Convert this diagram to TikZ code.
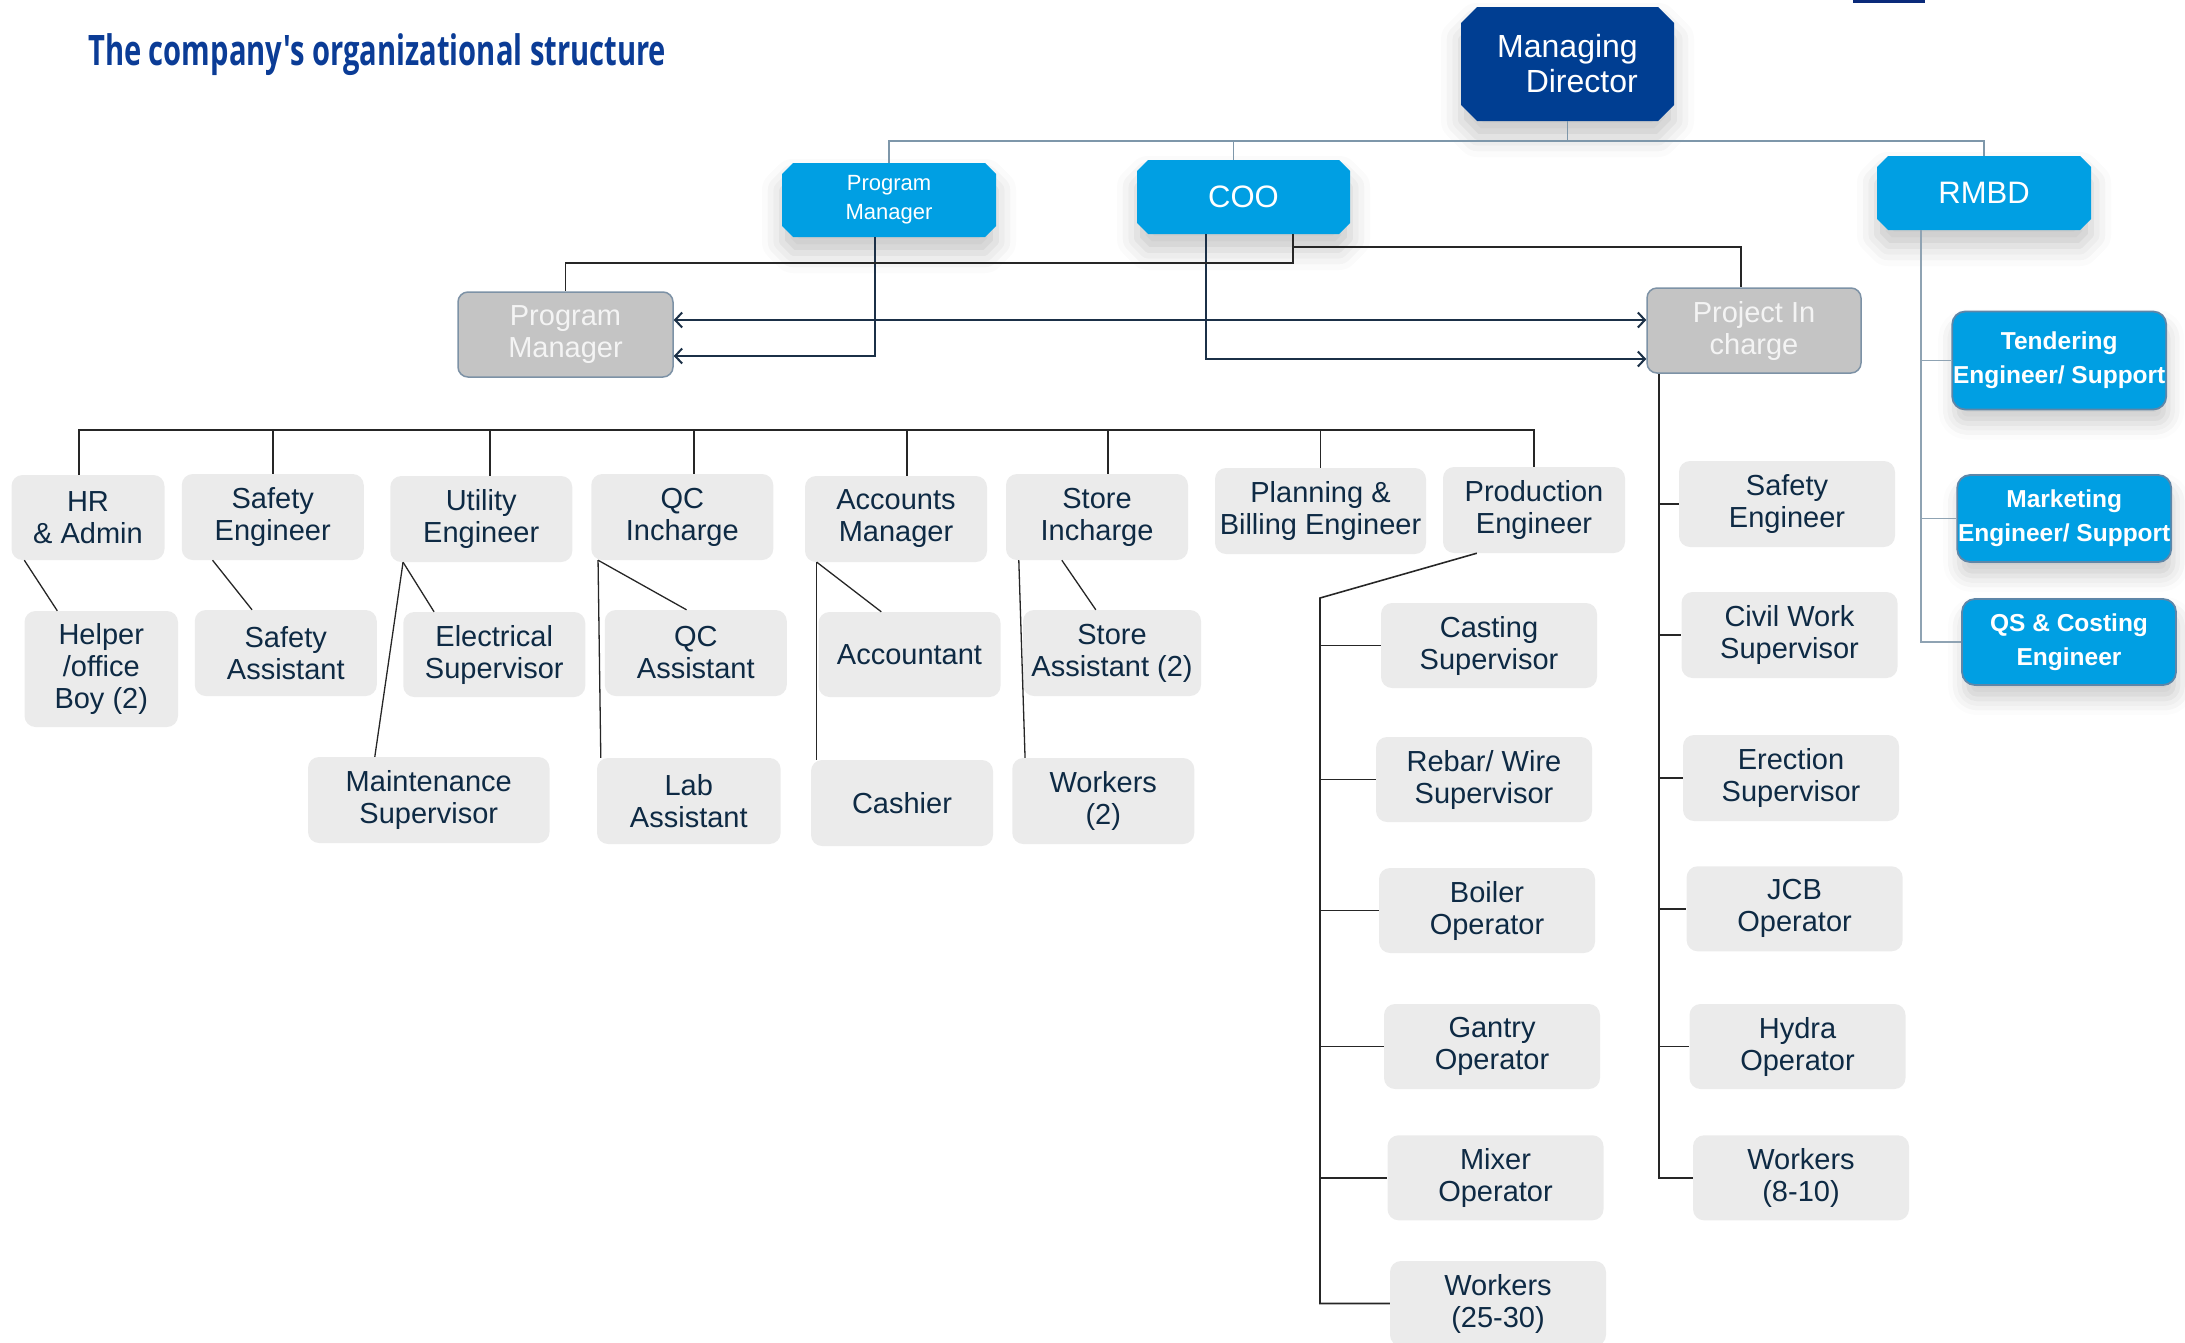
\documentclass[tikz,border=0pt]{standalone}
\usepackage{fontspec}
\setmainfont{Liberation Sans}
\newfontfamily\titlefont{Open Sans}
\usepackage{graphicx}
\usetikzlibrary{arrows.meta,shadows.blur}
\definecolor{blueF}{HTML}{009FE3}
\definecolor{mdF}{HTML}{003E92}
\definecolor{gboxF}{HTML}{EBEBEB}
\definecolor{gtxt}{HTML}{0E2A44}
\definecolor{pgF}{HTML}{C4C4C4}
\definecolor{pgB}{HTML}{7D92A6}
\definecolor{pgT}{HTML}{F4F4F4}
\definecolor{rbB}{HTML}{5E86A8}
\definecolor{mdL}{HTML}{7E97AA}
\definecolor{rL}{HTML}{8FA3B3}
\definecolor{blk}{HTML}{262626}
\definecolor{navyL}{HTML}{1B3047}
\definecolor{titleC}{HTML}{0B3C96}
\definecolor{topbar}{HTML}{0A2A7A}
% chamfered box: cx, cy, half width, half height, chamfer, colour
\newcommand{\chamf}[6]{%
  \begin{scope}[shift={(#1,#2)}]
  \fill[#6, blur shadow={shadow xshift=0pt, shadow yshift=-16pt, shadow blur radius=20pt, shadow opacity=22}]
    (-#3+#5,-#4) -- (#3-#5,-#4) -- (#3,-#4+#5) -- (#3,#4-#5) -- (#3-#5,#4)
    -- (-#3+#5,#4) -- (-#3,#4-#5) -- (-#3,-#4+#5) -- cycle;
  \end{scope}}
\begin{document}
\begin{tikzpicture}[x=1pt,y=-1pt,
  gbox/.style={rounded corners=11pt, fill=gboxF, text=gtxt, font=\fontsize{29}{32}\selectfont, align=center, inner sep=0pt, minimum width=182pt, minimum height=86pt},
  wide/.style={minimum width=216pt, minimum height=85pt},
  pbox/.style={rounded corners=10pt, fill=pgF, draw=pgB, line width=1.5pt, text=pgT, font=\fontsize{29}{32}\selectfont, align=center, inner sep=0pt, minimum width=214pt, minimum height=85pt},
  topnode/.style={text=white, align=center, inner sep=0pt, minimum width=214pt, minimum height=74pt},
  rbox/.style={rounded corners=13pt, fill=blueF, draw=rbB, line width=1.8pt, text=white, font=\fontsize{24.5}{34}\selectfont\bfseries, align=center, inner sep=0pt, minimum width=214pt, minimum height=86pt, blur shadow={shadow xshift=2pt, shadow yshift=-14pt, shadow blur radius=16pt, shadow opacity=20}},
  mdline/.style={draw=mdL, line width=1.6pt},
  bline/.style={draw=blk, line width=1.6pt},
  dline/.style={draw=blk, line width=1.3pt},
  aline/.style={draw=navyL, line width=2pt, >={Straight Barb[length=7pt,width=15pt]}},
  rline/.style={draw=rL, line width=1.6pt}]
\useasboundingbox (0,0) rectangle (2185,1342);
\fill[topbar] (1853,0) rectangle (1925,3);

% title
\node[anchor=base west, text=titleC, inner sep=0pt] (title) at (88,65)
  {\resizebox{578pt}{\height}{\titlefont\bfseries\fontsize{42}{50}\selectfont The company's organizational structure}};

% top level (chamfered boxes)
\chamf{1567.5}{64}{106.5}{57}{16}{mdF}
\chamf{889}{200}{107}{37}{11}{blueF}
\chamf{1243.5}{197}{106.5}{37}{11}{blueF}
\chamf{1984}{193}{107}{37}{11}{blueF}
\node[topnode, minimum width=213pt, minimum height=114pt, font=\fontsize{32}{35}\selectfont, align=right] (md) at (1567.5,64) {Managing\\Director};
\node[topnode, font=\fontsize{22}{29}\selectfont] (pmb) at (889,200) {Program\\Manager};
\node[topnode, minimum width=213pt, font=\fontsize{31}{35}\selectfont] (coo) at (1243.5,197) {COO};
\node[topnode, font=\fontsize{31}{35}\selectfont] (rmbd) at (1984,193) {RMBD};

\node[pbox, minimum width=215pt] (pmg) at (565.5,334.5) {Program\\Manager};
\node[pbox] (pic) at (1754,330.5) {Project In\\charge};

% RMBD column
\node[rbox, minimum height=98pt] (ten) at (2059.2,360.5) {Tendering\\Engineer/ Support};
\node[rbox, minimum height=87pt] (mkt) at (2064.2,518.5) {Marketing\\Engineer/ Support};
\node[rbox] (qs) at (2069,642) {QS \& Costing\\Engineer};

% level 1
\node[gbox, minimum width=153pt, minimum height=85pt] (hr) at (88,517.5) {HR\\\& Admin};
\node[gbox] (se1) at (272.75,517) {Safety\\Engineer};
\node[gbox] (ue) at (481.25,519) {Utility\\Engineer};
\node[gbox] (qci) at (682.25,517) {QC\\Incharge};
\node[gbox] (am) at (896,519) {Accounts\\Manager};
\node[gbox] (si) at (1097,517) {Store\\Incharge};
\node[gbox, minimum width=211pt] (pbe) at (1320.5,511) {Planning \&\\Billing Engineer};
\node[gbox] (pe) at (1534,510) {Production\\Engineer};

% level 2
\node[gbox, minimum width=153.5pt, minimum height=116pt] (help) at (101.25,669) {Helper\\/office\\Boy (2)};
\node[gbox] (sa) at (285.75,653) {Safety\\Assistant};
\node[gbox, minimum height=85pt] (es) at (494.25,654.5) {Electrical\\Supervisor};
\node[gbox] (qca) at (695.75,653) {QC\\Assistant};
\node[gbox, minimum height=85pt] (acc) at (909.5,654.5) {Accountant};
\node[gbox, minimum width=178pt] (sta) at (1112,653) {Store\\Assistant (2)};

% level 3
\node[gbox, minimum width=241.5pt] (ms) at (428.75,800) {Maintenance\\Supervisor};
\node[gbox, minimum width=183.6pt] (la) at (688.8,801) {Lab\\Assistant};
\node[gbox] (cash) at (902,803) {Cashier};
\node[gbox] (w2) at (1103.25,801) {Workers\\(2)};

% production column
\node[gbox, wide] (cs) at (1489,645.5) {Casting\\Supervisor};
\node[gbox, wide] (rw) at (1484,779.5) {Rebar/ Wire\\Supervisor};
\node[gbox, wide] (bo) at (1487,910.5) {Boiler\\Operator};
\node[gbox, wide] (go) at (1492,1046.5) {Gantry\\Operator};
\node[gbox, wide] (mo) at (1495.5,1177.75) {Mixer\\Operator};
\node[gbox, wide] (w25) at (1498,1303.5) {Workers\\(25-30)};

% project column
\node[gbox, wide, minimum height=86pt] (pse) at (1787,504) {Safety\\Engineer};
\node[gbox, wide, minimum height=86pt] (cws) at (1789.5,635) {Civil Work\\Supervisor};
\node[gbox, wide, minimum height=86pt] (ers) at (1791,778) {Erection\\Supervisor};
\node[gbox, wide] (jcb) at (1794.6,908.8) {JCB\\Operator};
\node[gbox, wide] (hyd) at (1797.5,1046.5) {Hydra\\Operator};
\node[gbox, wide] (w8) at (1801,1177.8) {Workers\\(8-10)};

% ---- connectors ----
% managing director bus
\draw[mdline] (md.south) -- ++(0,20);
\draw[mdline] (pmb.north) -- ++(0,-22) -| (rmbd.north);
\draw[mdline] ([xshift=-10pt]coo.north) -- ++(0,-19);

% program manager / coo arrows
\draw[aline,->] ([xshift=-14pt]pmb.south) |- ([yshift=-21.5pt]pmg.east);
\draw[aline,<->] ([yshift=14.5pt]pmg.east) -- ([yshift=10.5pt]pic.west);
\draw[aline,->] ([xshift=-37.5pt]coo.south) |- ([yshift=-28.5pt]pic.west);
\draw[bline] ([xshift=49.5pt]coo.south) -- ++(0,29) -| (pmg.north);
\draw[bline] ([xshift=49.5pt,yshift=-13pt]coo.south) -| ([xshift=-13pt]pic.north);

% lower bus
\coordinate (busY) at (0,430);
\draw[bline] ([xshift=-9pt]hr.north) -- ([xshift=-9pt]hr.north |- busY) -| (pe.north);
\draw[bline] (se1.north) -- (se1.north |- busY);
\draw[bline] ([xshift=9pt]ue.north) -- ([xshift=9pt]ue.north |- busY);
\draw[bline] ([xshift=12pt]qci.north) -- ([xshift=12pt]qci.north |- busY);
\draw[bline] ([xshift=11pt]am.north) -- ([xshift=11pt]am.north |- busY);
\draw[bline] ([xshift=11pt]si.north) -- ([xshift=11pt]si.north |- busY);
\draw[bline] (pbe.north) -- (pbe.north |- busY);

% diagonals
\draw[dline] ([xshift=13pt]hr.south west) -- ([xshift=33pt]help.north west);
\draw[dline] ([xshift=31pt]se1.south west) -- ([xshift=57.5pt]sa.north west);
\draw[dline] ([xshift=13pt]ue.south west) -- ([xshift=31pt]es.north west);
\draw[dline] ([xshift=13pt]ue.south west) -- ([xshift=67pt]ms.north west);
\draw[dline] ([xshift=7pt]qci.south west) -- ([xshift=82pt]qca.north west);
\draw[dline] ([xshift=7pt]qci.south west) -- ([xshift=4pt]la.north west);
\draw[dline] ([xshift=12pt]am.south west) -- ([xshift=63pt]acc.north west);
\draw[dline] ([xshift=12pt]am.south west) -- ([xshift=6pt]cash.north west);
\draw[dline] ([xshift=56pt]si.south west) -- ([xshift=73pt]sta.north west);
\draw[dline] ([xshift=13pt]si.south west) -- ([xshift=13pt]w2.north west);

% production column
\coordinate (pv) at (1320,598);
\draw[bline] ([xshift=34pt]pe.south west) -- (pv) |- (w25.west);
\foreach \n in {cs,rw,bo,go,mo} \draw[bline] (pv |- \n.west) -- (\n.west);

% project column
\coordinate (pj) at ([xshift=-95pt]pic.south);
\draw[bline] (pj) |- (w8.west);
\foreach \n in {pse,cws,ers,jcb,hyd} \draw[bline] (pj |- \n.west) -- (\n.west);

% rmbd column
\coordinate (rx) at ([xshift=-63pt]rmbd.south);
\draw[rline] (rx) |- (qs.west);
\draw[rline] (rx |- ten.west) -- (ten.west);
\draw[rline] (rx |- mkt.west) -- (mkt.west);
\end{tikzpicture}
\end{document}
